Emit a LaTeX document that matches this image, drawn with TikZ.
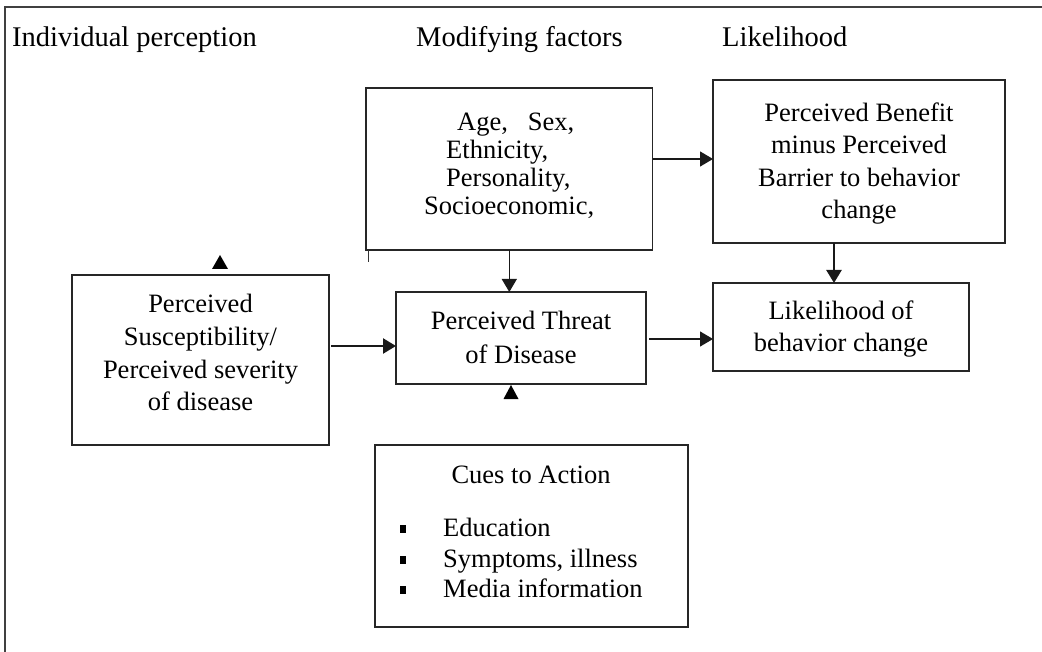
\documentclass[tikz,border=0pt]{standalone}
\usepackage{fontspec}
\setmainfont{Liberation Serif}
\usetikzlibrary{arrows.meta}
\begin{document}
\begin{tikzpicture}[x=1pt,y=-1pt,
  box/.style={draw=black!85, line width=1.4pt, inner sep=0pt, outer sep=0pt},
  ln/.style={font=\fontsize{26.5}{32.4}\selectfont, inner sep=0pt, anchor=base},
  lnw/.style={font=\fontsize{26.5}{32.4}\selectfont, inner sep=0pt, anchor=base west},
  hdr/.style={font=\fontsize{28.5}{34}\selectfont, inner sep=0pt, anchor=base west},
  conn/.style={line width=1.3pt, draw=black!90, -{Triangle[length=13pt,width=15pt]}},
  thickconn/.style={conn, line width=2.4pt},
  bul/.style={fill=black, inner sep=0pt, minimum width=6pt, minimum height=8pt},
  frame/.style={draw=black!75, line width=1.3pt},
]
\useasboundingbox (0,0) rectangle (1042,652);
% frame
\coordinate (fbl) at (5,652);
\coordinate (ftl) at (5,7);
\coordinate (ftr) at (1042,7);
\draw[frame] (fbl) -- (ftl) -- (ftr);
% headers
\node[hdr] (h1) at (12,47) {Individual perception};
\node[hdr] (h2) at (416,47) {Modifying factors};
\node[hdr] (h3) at (722,47) {Likelihood};
% boxes
\node[box, minimum width=286.7pt, minimum height=162pt] (mod) at (509.3,169) {};
\node[box, minimum width=292pt, minimum height=163pt] (ben) at (859,161.5) {};
\node[box, minimum width=257pt, minimum height=170pt] (sus) at (200.5,360) {};
\node[box, minimum width=250pt, minimum height=92pt] (thr) at (521,338) {};
\node[box, minimum width=256pt, minimum height=88pt] (lik) at (841,327) {};
\node[box, minimum width=313pt, minimum height=182pt] (cue) at (531.5,536) {};
% modifying factors text
\node[lnw] (m1) at (457,131) {Age,\ \ \ Sex,};
\node[lnw] (m2) at (446,159) {Ethnicity,};
\node[lnw] (m3) at (446,187) {Personality,};
\node[lnw] (m4) at (424,215) {Socioeconomic,};
% benefit text
\node[ln] (b1) at (859,122) {Perceived Benefit};
\node[ln] (b2) at (859,154) {minus Perceived};
\node[ln] (b3) at (859,187) {Barrier to behavior};
\node[ln] (b4) at (859,219) {change};
% susceptibility text
\node[ln] (s1) at (200.5,313) {Perceived};
\node[ln] (s2) at (200.5,346) {Susceptibility/};
\node[ln] (s3) at (200.5,378) {Perceived severity};
\node[ln] (s4) at (200.5,410) {of disease};
% threat text
\node[ln] (t1) at (521,330) {Perceived Threat};
\node[ln] (t2) at (521,363) {of Disease};
% likelihood text
\node[ln] (l1) at (841,320) {Likelihood of};
\node[ln] (l2) at (841,352) {behavior change};
% cues text
\node[ln] (c0) at (531,483) {Cues to Action};
\node[lnw] (c1) at (443,536) {Education};
\node[lnw] (c2) at (443,567) {Symptoms, illness};
\node[lnw] (c3) at (443,597) {Media information};
\node[bul] (u1) at (403,528.5) {};
\node[bul] (u2) at (403,559.5) {};
\node[bul] (u3) at (403,589.5) {};
% connectors
\draw[conn] (mod.south) -- (mod.south |- thr.north);
\coordinate (me) at ([yshift=10pt]mod.east);
\draw[conn] (me) -- (me -| ben.west);
\coordinate (se) at ([xshift=2pt,yshift=14pt]sus.east);
\draw[thickconn] (se) -- (se -| thr.west);
\coordinate (te) at ([xshift=3pt,yshift=-1pt]thr.east);
\draw[conn] (te) -- (te -| lik.west);
\coordinate (bs) at ([xshift=-25pt]ben.south);
\draw[thickconn] (bs) -- (bs |- lik.north);
% loose arrowheads
\coordinate (tipA) at ([xshift=19.5pt,yshift=20pt]sus.north);
\fill (tipA) -- ++(-8,14) -- ++(16,0) -- cycle;
\coordinate (tipB) at ([xshift=-10pt,yshift=-1pt]thr.south);
\fill (tipB) -- ++(-7.5,14) -- ++(15,0) -- cycle;
% small tick under modifying factors box
\draw[line width=1.2pt, black!80] ([xshift=2.7pt]mod.south west) -- ++(0,12);
\end{tikzpicture}
\end{document}
